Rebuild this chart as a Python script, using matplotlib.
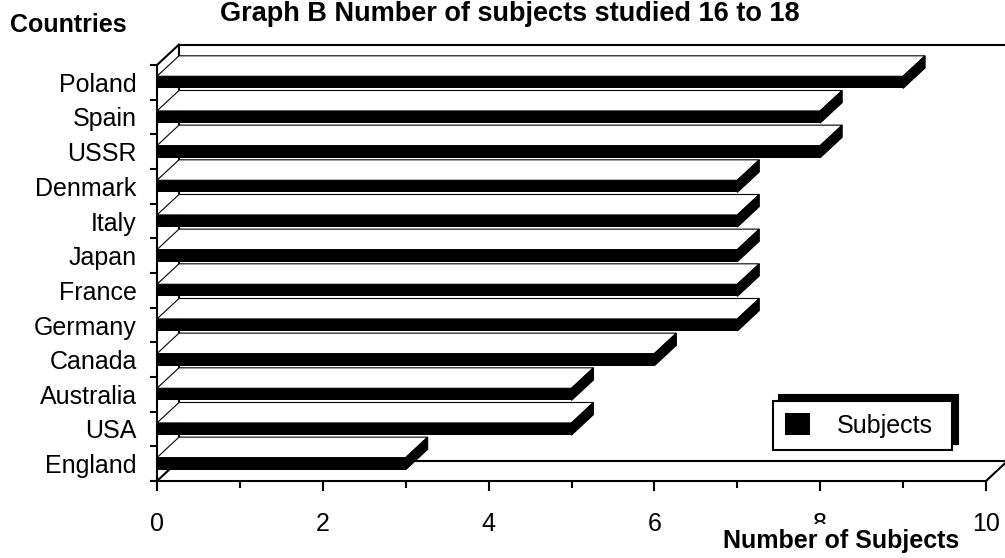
import numpy as np
import matplotlib
matplotlib.use('Agg')
import matplotlib.pyplot as plt
from matplotlib.patches import Polygon

plt.rcParams['font.family'] = 'Liberation Sans'

# countries listed bottom to top
countries = ['England', 'USA', 'Australia', 'Canada', 'Germany', 'France',
             'Japan', 'Italy', 'Denmark', 'USSR', 'Spain', 'Poland']
subjects = [3, 5, 5, 6, 7, 7, 7, 7, 7, 8, 8, 9]
xticks_major = [0, 2, 4, 6, 8, 10]
xticks_minor = [1, 3, 5, 7, 9]

H = 0.35           # thickness of the bar front face
DX, DY = 0.265, 0.59   # depth offset of the 3d look, in data units
FS = 18

fig = plt.figure(figsize=(10.05, 5.58), dpi=100)
ax = fig.add_axes([157 / 1005, 1 - 481 / 558, 829 / 1005, 416 / 558])

y = np.arange(len(countries))
ymin, ymax = -0.5, len(countries) - 0.5
xmax = 10

# side wall, back wall and floor outlines
wall = dict(color='black', lw=1.5, zorder=1, clip_on=False)
ax.plot([0, DX], [ymax, ymax + DY], **wall)
ax.plot([DX, xmax + DX + 1], [ymax + DY, ymax + DY], **wall)
ax.plot([DX, DX], [ymin + DY, ymax + DY], **wall)
ax.plot([0, DX], [ymin, ymin + DY], **wall)
ax.plot([DX, xmax + DX], [ymin + DY, ymin + DY], **wall)
ax.plot([xmax, xmax + DX], [ymin, ymin + DY], **wall)

# bars: black front, white top, black end face
ax.barh(y, subjects, height=H, color='black', label='Subjects', zorder=3)
for yi, v in zip(y, subjects):
    top, bot = yi + H / 2, yi - H / 2
    ax.add_patch(Polygon([(0, top), (v, top), (v + DX, top + DY), (DX, top + DY)],
                         closed=True, fc='white', ec='black', lw=0.8,
                         zorder=3, clip_on=False))
    ax.add_patch(Polygon([(v, bot), (v, top), (v + DX, top + DY), (v + DX, bot + DY)],
                         closed=True, fc='black', ec='black', lw=0.8,
                         zorder=3, clip_on=False))

ax.set_xlim(0, xmax)
ax.set_ylim(ymin, ymax)

ax.set_xticks(xticks_major)
ax.set_xticks(xticks_minor, minor=True)
ax.tick_params(axis='x', which='major', length=7.2, width=1.5, labelsize=FS, pad=15)
ax.tick_params(axis='x', which='minor', length=5, width=1.5)

ax.set_yticks(np.arange(ymin, ymax + 1, 1))
ax.set_yticklabels([])
ax.set_yticks(y, minor=True)
ax.set_yticklabels(countries, minor=True)
ax.tick_params(axis='y', which='major', length=5, width=1.5)
ax.tick_params(axis='y', which='minor', length=0, labelsize=FS, pad=14.5)

for s in ['top', 'right']:
    ax.spines[s].set_visible(False)
for s in ['left', 'bottom']:
    ax.spines[s].set_linewidth(1.5)

leg = ax.legend(loc='upper left', mode='expand',
                bbox_to_anchor=(773 / 1005, 1 - 453 / 558, 179 / 1005, 52 / 558),
                bbox_transform=fig.transFigure, borderaxespad=0,
                fancybox=False, edgecolor='black', framealpha=1,
                shadow={'ox': 4.5, 'oy': 4.5, 'facecolor': 'black',
                        'edgecolor': 'black', 'alpha': 1},
                fontsize=FS, handlelength=1.0, handleheight=1.0,
                handletextpad=1.08, borderpad=0.48)
leg.get_frame().set_linewidth(1.5)

fig.text(510 / 1005, 1 - 14 / 558, 'Graph B Number of subjects studied 16 to 18',
         ha='center', va='center', fontsize=19.5, fontweight='bold')
fig.text(10 / 1005, 1 - 25 / 558, 'Countries', ha='left', va='center',
         fontsize=FS, fontweight='bold')
fig.text(841 / 1005, 1 - 541 / 558, 'Number of Subjects', ha='center', va='center',
         fontsize=FS, fontweight='bold', zorder=5,
         bbox=dict(fc='white', ec='none', pad=4))

fig.savefig('out.png', dpi=100)
